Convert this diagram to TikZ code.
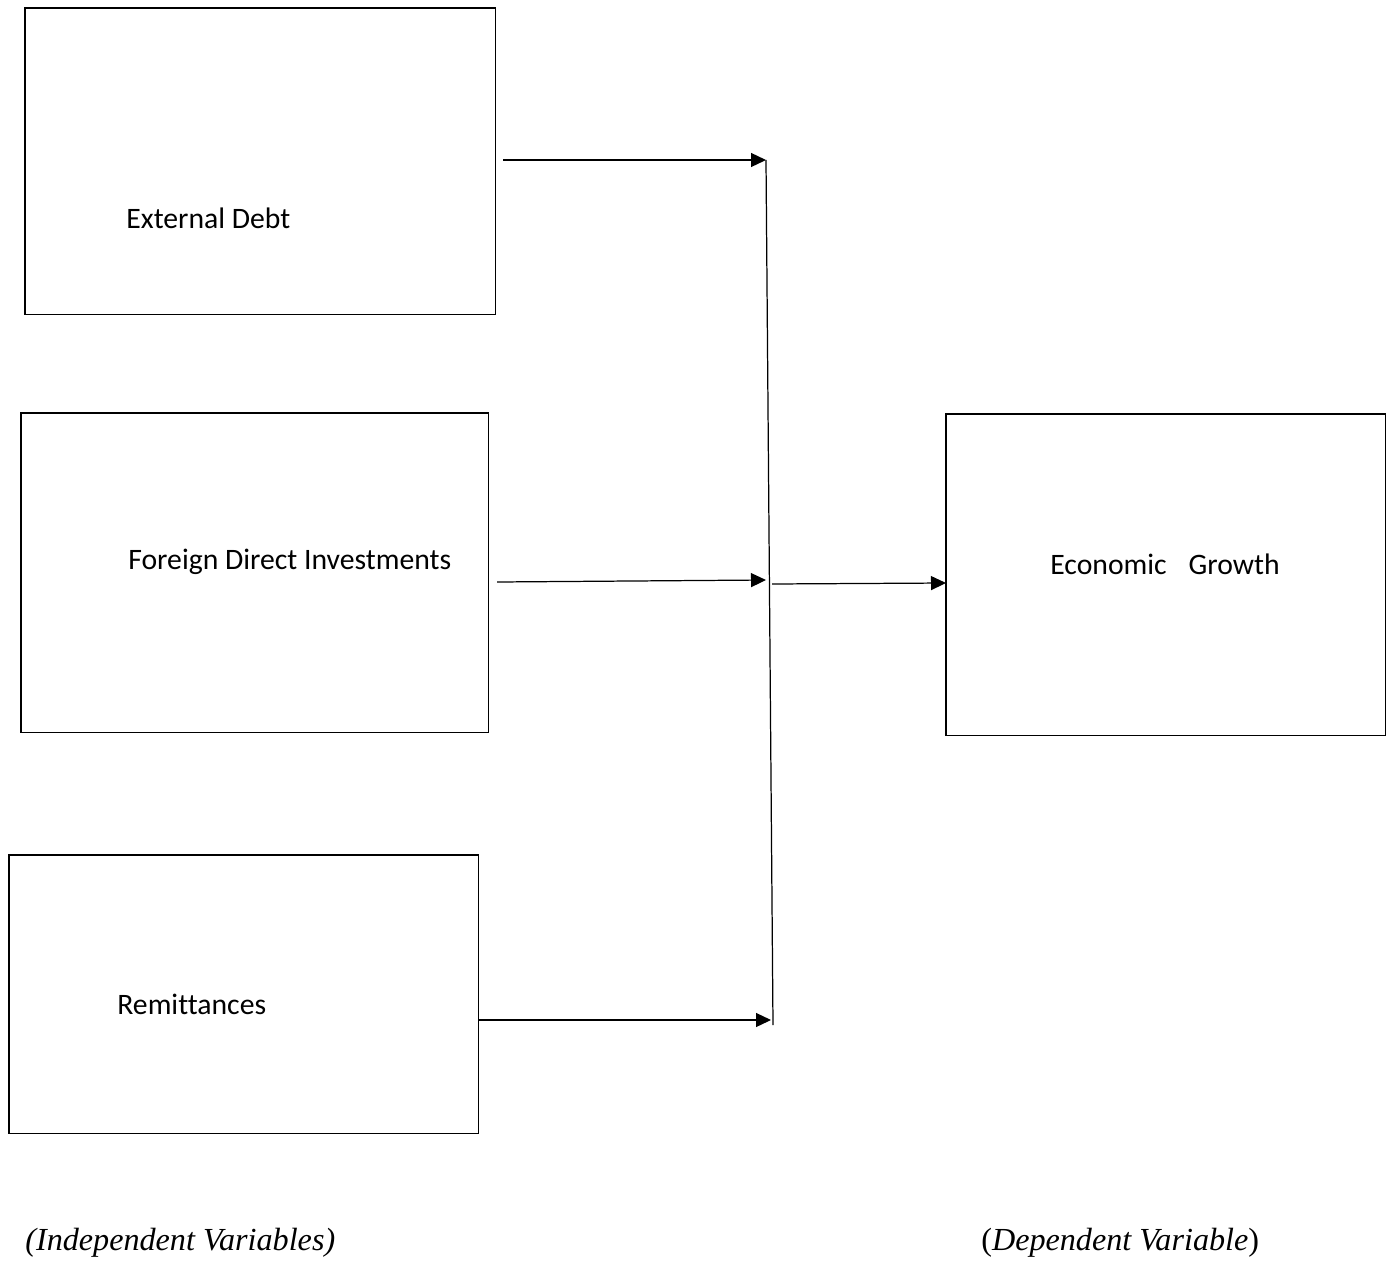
\documentclass[tikz,border=0pt]{standalone}
\usepackage{fontspec}
\setmainfont{Carlito}[Ligatures=NoCommon]
\newfontfamily\captfont{Liberation Serif}
\usetikzlibrary{arrows.meta,positioning,calc}

\begin{document}
\begin{tikzpicture}[x=0.02cm,y=-0.02cm,>={Triangle[length=0.3cm,width=0.28cm]},
  varbox/.style={draw,line width=0.6pt,outer sep=0pt,inner sep=0pt,anchor=north west},
  vartext/.style={anchor=west,inner sep=0pt,font=\fontsize{16.9}{20}\selectfont},
  capt/.style={anchor=west,inner sep=0pt,font=\captfont\fontsize{18.3}{22}\selectfont},
  link/.style={->,line width=0.7pt}]
  \useasboundingbox (0,0) rectangle (1393,1261);
  % independent variables
  \node[varbox,minimum width=9.42cm,minimum height=6.14cm] (ed) at (25,8) {};
  \node[varbox,minimum width=9.36cm,minimum height=6.4cm] (fdi) at (21,413) {};
  \node[varbox,minimum width=9.4cm,minimum height=5.58cm] (rem) at (9,855) {};
  \node[vartext] (edtext) at (126,218) {External Debt};
  \node[vartext] (fditext) at (128,562) {Foreign Direct Investments};
  \node[vartext] (remtext) at (117,1004) {Remittances};
  % dependent variable
  \node[varbox,minimum width=8.8cm,minimum height=6.44cm] (eg) at (946,414) {};
  \node[vartext] (egtext) at (1050,564) {Economic\hspace{0.44cm}Growth};
  % collecting line
  \coordinate (top) at (766,160);
  \coordinate (bot) at (773,1025);
  \coordinate (midin) at (766,580);
  \coordinate (midout) at (772,584);
  \coordinate (low) at (771,1020);
  \coordinate (edout) at (503,160);
  \coordinate (fdiout) at (497,582);
  \coordinate (remout) at (479,1020);
  \coordinate (egin) at (946,583);
  \draw[line width=0.7pt] (top) -- (bot);
  \draw[link] (edout) -- (top);
  \draw[link] (fdiout) -- (midin);
  \draw[link] (remout) -- (low);
  \draw[link] (midout) -- (egin);
  % captions
  \node[capt] (indep) at (25,1243) {\textit{(Independent Variables)}};
  \node[capt] (dep) at (981,1243) {(\textit{Dependent Variable})};
\end{tikzpicture}
\end{document}
